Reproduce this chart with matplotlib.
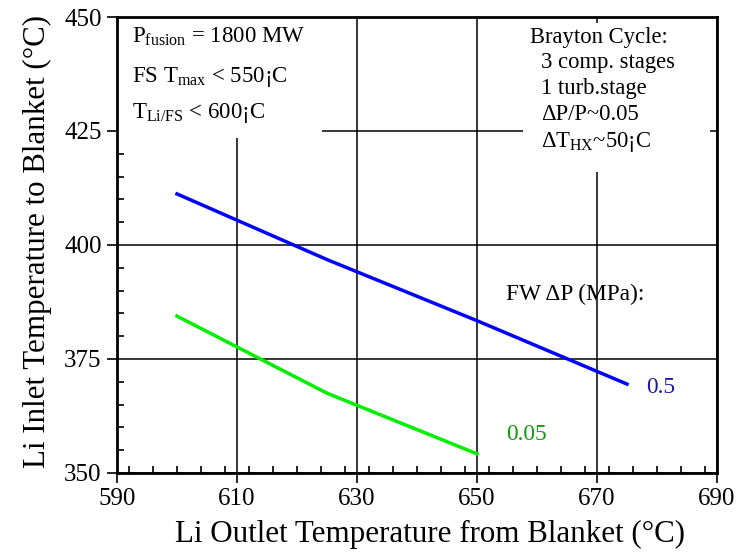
import matplotlib
matplotlib.use("Agg")
import matplotlib.pyplot as plt
from matplotlib.patches import Rectangle
from matplotlib.ticker import MultipleLocator

plt.rcParams['font.family'] = ['Liberation Serif', 'DejaVu Serif']
plt.rcParams['mathtext.fontset'] = 'custom'
plt.rcParams['mathtext.rm'] = 'Liberation Serif'
plt.rcParams['mathtext.it'] = 'Liberation Serif'

# Li outlet temperature (x) vs. required inlet temperature (y), per FW pressure drop
outlet_05 = [600, 625, 650, 675]
inlet_05 = [411.2, 396.8, 383.4, 369.5]
outlet_005 = [600, 625, 650]
inlet_005 = [384.4, 367.5, 354.2]

x_ticks = [590, 610, 630, 650, 670, 690]
y_ticks = [350, 375, 400, 425, 450]

fig = plt.figure(figsize=(7.47, 5.54), dpi=100)
ax = fig.add_axes([117 / 747, 1 - 473 / 554, 600 / 747, 456 / 554])

ax.set_xlim(590, 690)
ax.set_ylim(350, 450)
ax.set_xticks(x_ticks)
ax.set_yticks(y_ticks)
ax.xaxis.set_minor_locator(MultipleLocator(4))
ax.yaxis.set_minor_locator(MultipleLocator(5))
ax.tick_params(which='major', direction='out', length=7, width=1.2,
               labelsize=18, pad=4, top=False, right=False)
ax.tick_params(which='minor', direction='in', length=5, width=1.2,
               top=False, right=False)
for s in ax.spines.values():
    s.set_linewidth(2)

ax.grid(True, which='major', color='black', linewidth=1.1, zorder=0)
ax.set_axisbelow(True)

ax.plot(outlet_05, inlet_05, color='#0000ff', linewidth=2.5, zorder=3)
ax.plot(outlet_005, inlet_005, color='#00ee00', linewidth=2.5, zorder=3)

# white panels behind the annotation blocks
ax.add_patch(Rectangle((0.0, 0.735), 0.342, 0.265, transform=ax.transAxes,
                       facecolor='white', edgecolor='none', zorder=1))
ax.add_patch(Rectangle((0.677, 0.660), 0.311, 0.327, transform=ax.transAxes,
                       facecolor='white', edgecolor='none', zorder=1))


def px(x, y):
    return (x / 747, 1 - y / 554)


fs_box = 16.5
fig.text(*px(132, 43), r'P$_{\mathrm{fusion}}$ = 1800 MW', fontsize=fs_box, va='baseline')
fig.text(*px(132, 82), r'FS T$_{\mathrm{max}}$ < 550¡C', fontsize=fs_box, va='baseline')
fig.text(*px(132, 118), r'T$_{\mathrm{Li/FS}}$ < 600¡C', fontsize=fs_box, va='baseline')

fig.text(*px(530, 43), 'Brayton Cycle:', fontsize=16.3, va='baseline')
fig.text(*px(541, 68), '3 comp. stages', fontsize=16.3, va='baseline')
fig.text(*px(541, 94), '1 turb.stage', fontsize=16.3, va='baseline')
fig.text(*px(541, 120), 'ΔP/P~0.05', fontsize=16.3, va='baseline')
fig.text(*px(541, 147), r'ΔT$_{\mathrm{HX}}$~50¡C', fontsize=16.3, va='baseline')

fig.text(*px(506, 300), 'FW ΔP (MPa):', fontsize=16.8, va='baseline')
fig.text(*px(646, 393), '0.5', fontsize=16.8, va='baseline', color='#1a1a9a')
fig.text(*px(506, 440), '0.05', fontsize=16.8, va='baseline', color='#119911')

fig.text(*px(430.5, 542), 'Li Outlet Temperature from Blanket (°C)', fontsize=22.3,
         ha='center', va='baseline')
fig.text(*px(45, 242), 'Li Inlet Temperature to Blanket (°C)', fontsize=22.3,
         ha='center', va='baseline', rotation=90, rotation_mode='anchor')

fig.savefig('out.png', dpi=100)
